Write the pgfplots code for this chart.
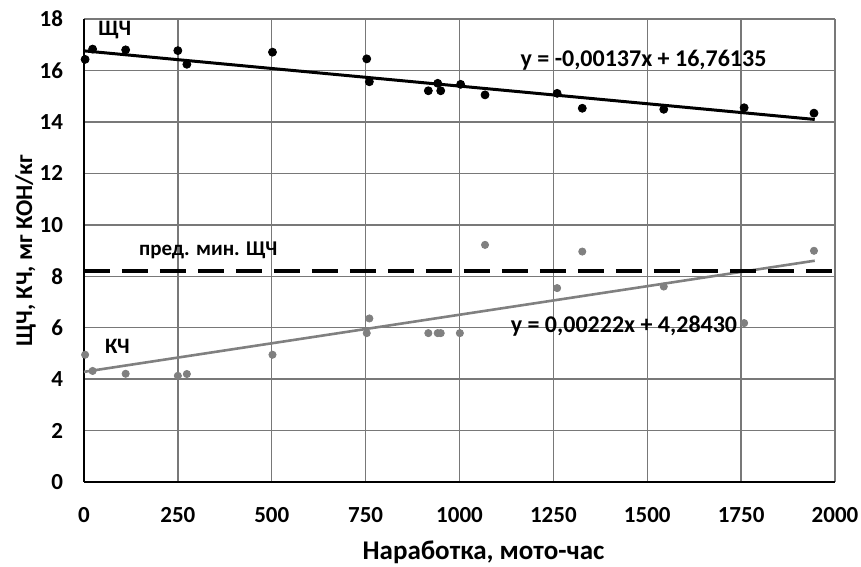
\documentclass[border=0pt]{standalone}
\usepackage{pgfplots}
\pgfplotsset{compat=1.18}
\usepackage{fontspec}
\setmainfont{Carlito}
\definecolor{gridgray}{RGB}{120,120,120}
\definecolor{kchgray}{RGB}{128,128,128}
\begin{document}
\begin{tikzpicture}
\useasboundingbox (-42pt,-42pt) rectangle (388.6pt,241.1pt);
\begin{axis}[
  scale only axis,
  width=375.6pt, height=231.6pt,
  xmin=0, xmax=2000, ymin=0, ymax=18,
  xtick={0,250,...,2000}, ytick={0,2,...,18},
  grid=major,
  grid style={gridgray, line width=0.7pt},
  axis x line*=bottom, axis y line*=left,
  axis line style={black, line width=1.4pt, -},
  major tick length=0pt,
  /pgf/number format/assume math mode=true,
  /pgf/number format/1000 sep={},
  tick label style={font=\fontsize{11.5}{13}\selectfont\bfseries},
  xticklabel style={yshift=-9pt},
  yticklabel style={xshift=-7pt},
  xlabel={Наработка, мото-час},
  ylabel={ЩЧ, КЧ, мг КОН/кг},
  xlabel style={font=\fontsize{13.5}{15}\selectfont\bfseries, yshift=-2.5pt, xshift=12pt},
  ylabel style={font=\fontsize{12}{14}\selectfont\bfseries, yshift=-5pt},
  clip=false,
]
% ЩЧ points
\addplot[only marks, mark=*, mark size=2pt, black] coordinates {
(3,16.43) (23,16.83) (111,16.80) (250,16.77) (274,16.24) (502,16.71)
(753,16.45) (760,15.56) (917,15.21) (942,15.50) (950,15.21) (1003,15.46)
(1068,15.05) (1260,15.11) (1327,14.53) (1544,14.49) (1758,14.55) (1944,14.34)
};
% КЧ points
\addplot[only marks, mark=*, mark size=1.8pt, kchgray] coordinates {
(3,4.95) (23,4.32) (111,4.21) (250,4.13) (274,4.20) (502,4.95)
(753,5.79) (760,6.36) (917,5.79) (942,5.79) (950,5.79) (1001,5.79)
(1068,9.22) (1260,7.54) (1327,8.96) (1544,7.60) (1758,6.18) (1944,8.99)
};
% trend lines
\addplot[black, line width=1.5pt] coordinates {(0,16.76135) (1946,14.09533)};
\addplot[kchgray, line width=1.3pt] coordinates {(0,4.28430) (1946,8.60442)};
% limit line
\addplot[black, line width=2pt, dash pattern=on 13pt off 6pt] coordinates {(0,8.2) (2000,8.2)};
% annotations
\node[font=\fontsize{11}{12}\selectfont\bfseries] at (axis cs:82,17.57) {ЩЧ};
\node[font=\fontsize{12}{13}\selectfont\bfseries] at (axis cs:1490,16.39) {y = -0,00137x + 16,76135};
\node[font=\fontsize{12}{13}\selectfont\bfseries] at (axis cs:1438,6.05) {y = 0,00222x + 4,28430};
\node[font=\fontsize{10.5}{12}\selectfont\bfseries] at (axis cs:331,9.02) {пред. мин. ЩЧ};
\node[font=\fontsize{11}{12}\selectfont\bfseries] at (axis cs:89,5.28) {КЧ};
\end{axis}
\end{tikzpicture}
\end{document}
